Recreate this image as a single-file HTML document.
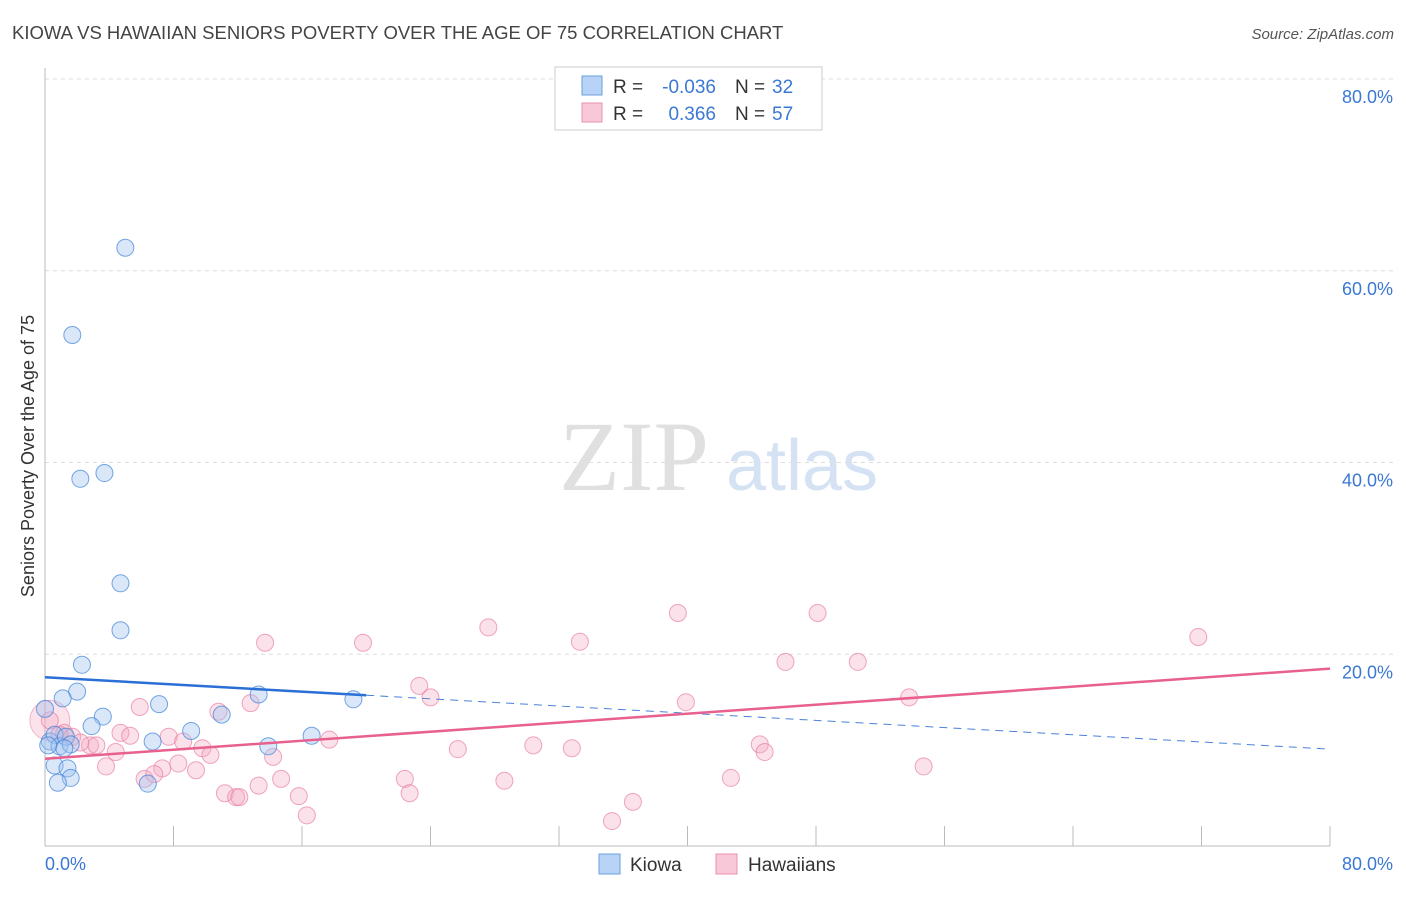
<!DOCTYPE html>
<html><head><meta charset="utf-8"><style>
body{margin:0;background:#fff;font-family:"Liberation Sans",sans-serif;}
</style></head><body>
<svg width="1406" height="892" xmlns="http://www.w3.org/2000/svg" font-family="Liberation Sans, sans-serif">
<text x="12" y="39" font-size="18.5" fill="#444">KIOWA VS HAWAIIAN SENIORS POVERTY OVER THE AGE OF 75 CORRELATION CHART</text>
<text x="1394" y="39" font-size="15" fill="#555" font-style="italic" text-anchor="end">Source: ZipAtlas.com</text>
<g id="grid"></g>
<text x="634" y="490" font-size="100" fill="#e0e0e0" font-family="Liberation Serif, serif" text-anchor="middle">ZIP</text>
<text x="802" y="490" font-size="72" fill="#d4e2f4" text-anchor="middle">atlas</text>
<line x1="45" y1="68" x2="45" y2="846" stroke="#bbb"/>
<line x1="45" y1="846" x2="1330" y2="846" stroke="#bbb"/>
<g id="ticks"></g>
<text x="34" y="456" font-size="18" fill="#333" text-anchor="middle" transform="rotate(-90 34 456)">Seniors Poverty Over the Age of 75</text>
<text x="45" y="870" font-size="18" fill="#3a78d4">0.0%</text>
<text x="1393" y="870" font-size="18" fill="#3a78d4" text-anchor="end">80.0%</text>
<g id="pts"></g>
<g id="lines"></g>
<g>
<rect x="555" y="67" width="267" height="63" fill="#fff" stroke="#ccc"/>
<rect x="582" y="76" width="20" height="19" fill="#b8d3f5" stroke="#6a9fe0"/>
<rect x="582" y="103" width="20" height="19" fill="#f8c8d8" stroke="#e891ad"/>
<text x="613" y="93" font-size="19" fill="#333">R =</text>
<text x="716" y="93" font-size="19" fill="#3a78d4" text-anchor="end">-0.036</text>
<text x="735" y="93" font-size="19" fill="#333">N =</text>
<text x="772" y="93" font-size="19" fill="#3a78d4">32</text>
<text x="613" y="120" font-size="19" fill="#333">R =</text>
<text x="716" y="120" font-size="19" fill="#3a78d4" text-anchor="end">0.366</text>
<text x="735" y="120" font-size="19" fill="#333">N =</text>
<text x="772" y="120" font-size="19" fill="#3a78d4">57</text>
</g>
<g>
<rect x="599" y="854" width="21" height="20" fill="#b8d3f5" stroke="#6a9fe0"/>
<text x="630" y="871" font-size="19" fill="#333">Kiowa</text>
<rect x="716" y="854" width="21" height="20" fill="#f8c8d8" stroke="#e891ad"/>
<text x="748" y="871" font-size="19" fill="#333">Hawaiians</text>
</g>
</svg>
<script>
const yTicks=[20,40,60,80];
const xTicks=[0,8,16,24,32,40,48,56,64,72,80];
const kiowaX=[5.0,1.7,2.2,3.7,4.7,4.7,2.3,2.0,1.1,7.1,13.3,19.2,0,3.6,11.0,2.9,9.1,6.7,13.9,16.6,0.3,0.6,0.9,1.3,1.6,0.6,1.4,1.6,0.8,6.4,1.2,0.2];
const kiowaY=[62.4,53.3,38.3,38.9,27.4,22.5,18.9,16.1,15.4,14.8,15.8,15.3,14.3,13.5,13.7,12.5,12.0,10.9,10.4,11.5,10.9,11.6,10.4,11.4,10.6,8.4,8.1,7.1,6.6,6.5,10.2,10.5];
const hawX=[71.8,39.4,48.1,27.6,13.7,19.8,33.3,46.1,50.6,23.3,24.0,39.9,53.8,5.9,10.8,12.8,4.7,5.3,7.7,8.6,17.7,1.2,1.7,2.8,3.2,4.4,9.8,10.3,14.2,25.7,30.4,32.8,44.5,44.8,3.8,7.3,8.3,9.4,6.2,6.8,14.7,22.4,28.6,42.7,54.7,11.2,11.9,12.1,13.3,15.8,22.7,36.6,35.3,16.3,0.3,0.9,2.2];
const hawY=[21.8,24.3,24.3,22.8,21.2,21.2,21.3,19.2,19.2,16.7,15.5,15.0,15.5,14.5,14.0,14.9,11.8,11.5,11.4,10.9,11.1,11.8,11.4,10.5,10.5,9.8,10.2,9.5,9.3,10.1,10.5,10.2,10.6,9.8,8.3,8.1,8.6,7.9,7.0,7.5,7.0,7.0,6.8,7.1,8.3,5.5,5.1,5.1,6.3,5.2,5.5,4.6,2.6,3.2,13.1,11.6,10.8];
const kiowaTrend=[17.6,10.1];
const hawTrend=[9.1,18.5];
const kiowaSolidEnd=20;
const X=v=>45+v*(1285/80), Y=v=>846-v*(767/80);
const NS='http://www.w3.org/2000/svg';
function mk(t,a,p){const e=document.createElementNS(NS,t);for(const k in a)e.setAttribute(k,a[k]);p.appendChild(e);return e;}
const grid=document.getElementById('grid');
yTicks.forEach(v=>{
 const l=mk('line',{x1:45,x2:1395,y1:Y(v),y2:Y(v),stroke:'#ddd','stroke-dasharray':'4,4'},grid);
 
 
 const t=mk('text',{x:1393,y:Y(v)+24,'font-size':18,fill:'#3a78d4','text-anchor':'end'},grid);
 t.textContent=v.toFixed(1)+'%';
 
 
});
const tk=document.getElementById('ticks');
xTicks.slice(1).forEach(v=>{
 const l=mk('line',{x1:X(v),x2:X(v),y1:826,y2:846,stroke:'#bbb'},tk);
 
 
});
const pts=document.getElementById('pts');
const big=mk('circle',{cx:X(0.3),cy:Y(13.1),r:20,fill:'rgba(244,160,190,0.3)',stroke:'rgba(232,120,160,0.5)'},pts);


hawX.forEach((x,i)=>{
 const c=mk('circle',{cx:X(x),cy:Y(hawY[i]),r:8.5,fill:'rgba(244,170,196,0.35)',stroke:'rgba(232,120,160,0.65)'},pts);
 
 
});
kiowaX.forEach((x,i)=>{
 const c=mk('circle',{cx:X(x),cy:Y(kiowaY[i]),r:8.5,fill:'rgba(160,196,240,0.4)',stroke:'rgba(60,130,215,0.7)'},pts);
 
 
});
const ln=document.getElementById('lines');
const ky=x=>kiowaTrend[0]+(kiowaTrend[1]-kiowaTrend[0])*x/80;
let a=mk('line',{x1:X(0),y1:Y(ky(0)),x2:X(kiowaSolidEnd),y2:Y(ky(kiowaSolidEnd)),stroke:'#2a6fd6','stroke-width':2.5},ln);


a=mk('line',{x1:X(kiowaSolidEnd),y1:Y(ky(kiowaSolidEnd)),x2:X(80),y2:Y(ky(80)),stroke:'#4a82d8','stroke-width':1,'stroke-dasharray':'8,6'},ln);


a=mk('line',{x1:X(0),y1:Y(hawTrend[0]),x2:X(80),y2:Y(hawTrend[1]),stroke:'#e8608e','stroke-width':2.5},ln);


</script>
</body></html>
